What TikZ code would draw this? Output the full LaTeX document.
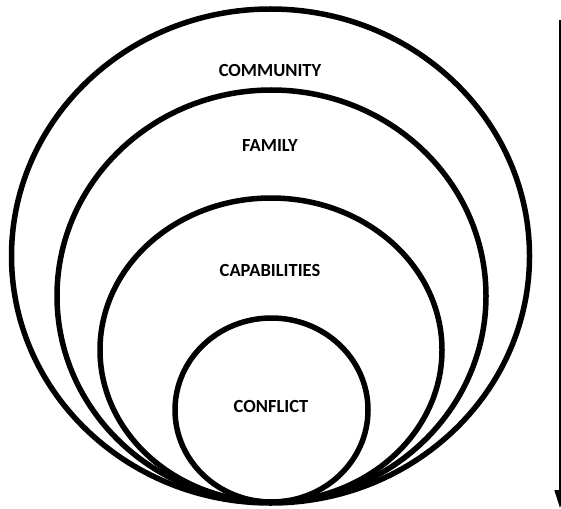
\documentclass[tikz,border=0pt]{standalone}
\usepackage{fontspec}
\setmainfont{Carlito}
\usetikzlibrary{shapes.geometric,arrows.meta}
\begin{document}
\begin{tikzpicture}[x=1pt,y=-1pt,
  ring/.style={draw=black,line width=5.5pt,ellipse,inner sep=0pt,outer sep=0pt},
  tag/.style={font=\fontsize{18.5}{20}\selectfont\bfseries,inner sep=0pt},
  flow/.style={line width=1.6pt,-{Triangle[width=11pt,length=18pt]}}]
  \useasboundingbox (0,0) rectangle (561,508);
  % nested rings, all touching at the bottom
  \node[ring,minimum width=518pt,minimum height=494pt] (community) at (270.5,256) {};
  \node[ring,minimum width=429pt,minimum height=412pt] (family) at (271.5,296) {};
  \node[ring,minimum width=342pt,minimum height=304pt] (capabilities) at (271,350) {};
  \node[ring,minimum width=193pt,minimum height=184pt] (conflict) at (271.5,410) {};
  % labels
  \node[tag] (tcommunity) at (270,71) {COMMUNITY};
  \node[tag] (tfamily) at (270,146) {FAMILY};
  \node[tag] (tcapabilities) at (270,270) {CAPABILITIES};
  \node[tag] (tconflict) at (271,406) {CONFLICT};
  % downward arrow along the right edge
  \coordinate (atop) at (560,20);
  \coordinate (abot) at (560,508);
  \draw[flow] (atop) -- (abot);
\end{tikzpicture}
\end{document}
